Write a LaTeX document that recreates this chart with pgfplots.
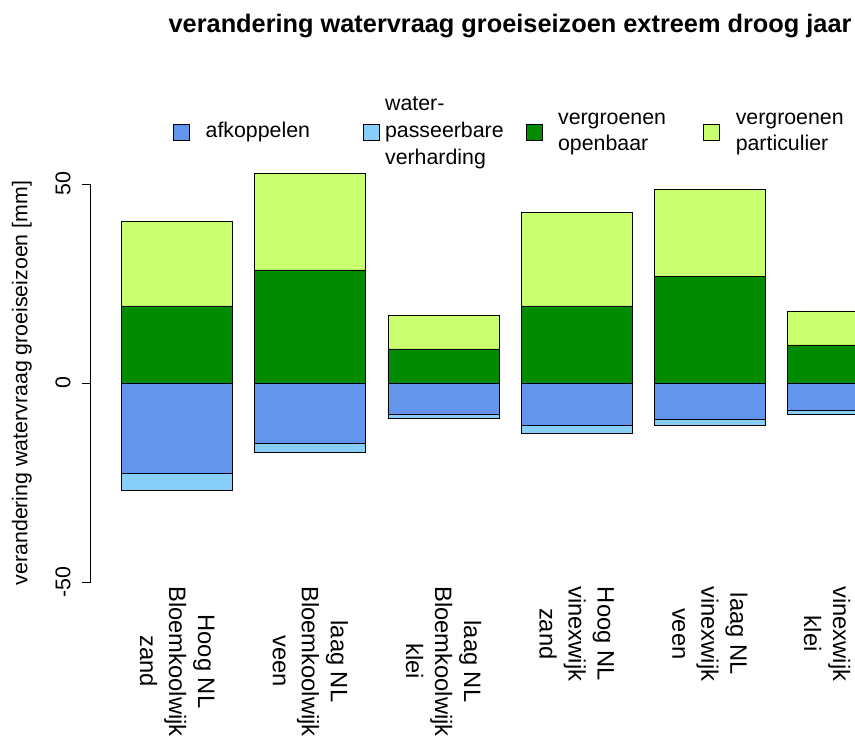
\documentclass[border=0pt]{standalone}
\usepackage{fontspec}
\setmainfont{Liberation Sans}
\usepackage{pgfplots}
\usepackage{pgfplotstable}
\pgfplotsset{compat=1.18}
\definecolor{afk}{RGB}{100,149,237}
\definecolor{wpv}{RGB}{135,206,250}
\definecolor{vgo}{RGB}{0,139,0}
\definecolor{vgp}{RGB}{202,255,112}

% segment heights per bar [mm]
\pgfplotstableread{
x   afk    wpv   vgo   vgp
0.7 -22.7 -4.2  19.35 21.35
1.9 -15.15 -2.35 28.4 24.3
3.1 -7.85 -1.1  8.55  8.35
4.3 -10.55 -2.1 19.35 23.45
5.5 -9.1  -1.5  26.7  21.95
6.7 -6.8  -1.1  9.55  8.55
}\datatable

\begin{document}
\begin{tikzpicture}
\useasboundingbox (-67.875pt,-113.25pt) rectangle (573.375pt,439.5pt);
\clip (-67.875pt,-113.25pt) rectangle (573.375pt,439.5pt);
\begin{axis}[
    at={(0pt,0pt)}, anchor=south west,
    scale only axis,
    width=629.37pt, height=313.5pt,
    xmin=-0.08, xmax=7.48,
    ymin=-51, ymax=54,
    ybar stacked, stack negative=separate,
    bar width=1,
    clip mode=individual,
    axis lines*=left,
    axis line style={draw=none},
    tick align=outside,
    major tick length=6pt,
    ytick={-50,0,50},
    yticklabels={-50,0,50},
    ytick style={black, line width=0.6pt},
    yticklabel style={xshift=-9pt, rotate=90, anchor=base, font=\fontsize{16}{19}\selectfont},
    xtick={0.7,1.9,3.1,4.3,5.5,6.7},
    xticklabels={{Hoog NL\\Bloemkoolwijk\\zand},{laag NL\\Bloemkoolwijk\\veen},{laag NL\\Bloemkoolwijk\\klei},{Hoog NL\\vinexwijk\\zand},{laag NL\\vinexwijk\\veen},{\strut\\vinexwijk\\klei}},
    major x tick style={draw=none},
    xticklabel style={yshift=6pt, rotate=-90, anchor=west, align=center, inner sep=0pt, font=\fontsize{17.8}{21.75}\selectfont},
    title={verandering watervraag groeiseizoen extreem droog jaar},
    title style={at={(axis description cs:0.5,1.3062)}, anchor=base, font=\fontsize{19}{23}\selectfont\bfseries},
    ylabel={verandering watervraag groeiseizoen [mm]},
    ylabel style={at={(axis description cs:-0.0751,0.4856)}, anchor=base, font=\fontsize{16}{19}\selectfont},
    legend columns=4,
    legend style={draw=none, fill=none, at={(axis description cs:0.0983,1.086)}, anchor=west,
        inner sep=0pt, font=\fontsize{16}{20}\selectfont,
        cells={anchor=west}, nodes={inner sep=0pt, text depth=}},
    legend image code/.code={\draw[#1,/tikz/.cd,draw=black,line width=0.6pt] (0pt,-6pt) rectangle (12pt,6pt); \path[draw=none,fill=none] (0pt,0pt) -- (24pt,0pt);},
]
\addplot[fill=afk, draw=black, line width=0.6pt] table[x=x, y=afk] {\datatable};
\addlegendentry{afkoppelen\hspace*{40pt}}
\addplot[fill=wpv, draw=black, line width=0.6pt] table[x=x, y=wpv] {\datatable};
\addlegendentry{\hspace*{-8pt}\begin{tabular}{@{}l@{}}water-\\passeerbare\\verharding\end{tabular}\hspace*{16.5pt}}
\addplot[fill=vgo, draw=black, line width=0.6pt] table[x=x, y=vgo] {\datatable};
\addlegendentry{\begin{tabular}{@{}l@{}}vergroenen\\openbaar\end{tabular}\hspace*{28pt}}
\addplot[fill=vgp, draw=black, line width=0.6pt] table[x=x, y=vgp] {\datatable};
\addlegendentry{\begin{tabular}{@{}l@{}}vergroenen\\particulier\end{tabular}}
\draw[black, line width=0.6pt] (axis cs:-0.08,-50) -- (axis cs:-0.08,50);
\end{axis}
\end{tikzpicture}
\end{document}
